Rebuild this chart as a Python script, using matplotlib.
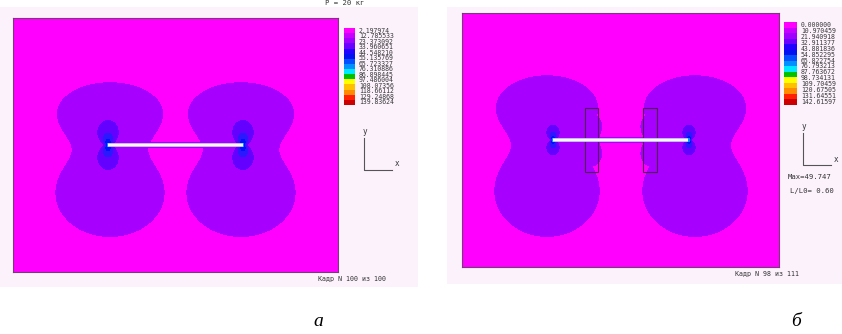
import numpy as np
import matplotlib.pyplot as plt
from matplotlib.colors import ListedColormap
from matplotlib.patches import Rectangle

FW, FH = 842, 334

# scale colours (top -> bottom) and the values printed next to them
legend_colors = ['#ff00ff', '#c800ff', '#a000ff', '#6a00ff', '#2000ff', '#0010f0',
                 '#0050ff', '#0090ff', '#00e8ff', '#00c000', '#ffff00', '#ffc000',
                 '#ff8c00', '#ff2000', '#cc0000']
labels_a = ['2.197974', '12.785533', '23.373092', '33.960651', '44.548210', '55.135769',
            '65.723327', '76.310886', '86.898445', '97.486004', '108.07356', '118.66112',
            '129.24868', '139.83624']
labels_b = ['0.000000', '10.970459', '21.940918', '32.911377', '43.881836', '54.852295',
            '65.822754', '76.793213', '87.763672', '98.734131', '109.70459', '120.67505',
            '131.64551', '142.61597']

# colours used inside the field
field_colors = ['#ff00ff', '#a800ff', '#6400ff', '#2c18ff', '#0010ff', '#0090ff', '#50ffff']

# geometry of the two frames (pixels inside each plot area)
tips_a, tips_b = [95, 230], [91, 226]
tip_y = 127
clamps_b = [(123, 136), (181, 195)]
clamp_y = (95, 159)


def px_axes(x0, y0, x1, y1):
    return fig.add_axes([x0 / FW, 1 - y1 / FH, (x1 - x0) / FW, (y1 - y0) / FH])


def ftext(x, y, s, **kw):
    kw.setdefault('family', 'DejaVu Sans Mono')
    kw.setdefault('fontsize', 4.8)
    kw.setdefault('color', '#333333')
    fig.text(x / FW, 1 - y / FH, s, va='center', **kw)


def tip_term(X, Y, tx, ty, a=0.25):
    dx, dy = X - tx, Y - ty
    r = np.hypot(dx, dy) + 1e-6
    s = np.abs(dy) / r
    return (a + s ** 2) / r


def two_blobs(X, Y, cx, ty, sxu, syu, ou, sxd, syd, od):
    return (np.exp(-(((X - cx) / sxu) ** 2 + ((Y - ty + ou) / syu) ** 2))
            + np.exp(-(((X - cx) / sxd) ** 2 + ((Y - ty - od) / syd) ** 2)))


def levels(w, h, tips, ty, lobe, tip_thr, clamps=None):
    # lobe = (shift out, sx_up, sy_up, off_up, sx_dn, sy_dn, off_dn)
    X, Y = np.meshgrid(np.arange(w) + 0.5, np.arange(h) + 0.5)
    lev = np.zeros(X.shape, int)
    sh = lobe[0]
    G = np.maximum(two_blobs(X, Y, tips[0] - sh, ty, *lobe[1:]),
                   two_blobs(X, Y, tips[1] + sh, ty, *lobe[1:]))
    if clamps:
        for c0, c1 in clamps:
            G = np.maximum(G, two_blobs(X, Y, (c0 + c1) / 2, ty, 11, 13, 14, 11, 13, 14))
    lev[G > 0.4] = 1
    mid, half = (tips[0] + tips[1]) / 2, (tips[1] - tips[0]) / 2
    lev[((X - mid) / half) ** 2 + ((Y - ty) / 3.5) ** 2 < 1] = 1
    T = sum(tip_term(X, Y, tx, ty) for tx in tips)
    for k, thr in enumerate(tip_thr):
        lev[T > thr] = np.maximum(lev[T > thr], k + 2)
    return lev


def panel(box, plot, tips, clamps, lobe, tip_thr, leg, labels, bottom, extra):
    bg = px_axes(*box)
    bg.set_facecolor('#fcf2fc')
    bg.set_xticks([]); bg.set_yticks([])
    for s in bg.spines.values():
        s.set_visible(False)

    ax = px_axes(*plot)
    w, h = plot[2] - plot[0], plot[3] - plot[1]
    lev = levels(w, h, tips, tip_y, lobe, tip_thr, clamps)
    ax.imshow(lev, cmap=ListedColormap(field_colors), vmin=-0.5, vmax=len(field_colors) - 0.5,
              extent=(0, w, h, 0), aspect='auto', interpolation='nearest')
    ax.plot(tips, [tip_y, tip_y], color='#c8c0ff', lw=2.8, solid_capstyle='butt')
    ax.plot(tips, [tip_y, tip_y], color='white', lw=1.3, solid_capstyle='butt')
    if clamps:
        for c0, c1 in clamps:
            ax.add_patch(Rectangle((c0, clamp_y[0]), c1 - c0, clamp_y[1] - clamp_y[0],
                                   fill=False, ec='#502050', lw=0.8))
    ax.set_xlim(0, w); ax.set_ylim(h, 0)
    ax.set_xticks([]); ax.set_yticks([])
    for s in ax.spines.values():
        s.set_color('#7a3a7a'); s.set_linewidth(0.8)

    lx0, ly0, lx1, ly1 = leg
    lax = px_axes(lx0, ly0, lx1, ly1)
    lax.imshow(np.arange(len(legend_colors))[:, None], cmap=ListedColormap(legend_colors),
               aspect='auto', interpolation='nearest')
    lax.set_xticks([]); lax.set_yticks([])
    for s in lax.spines.values():
        s.set_visible(False)
    step = (ly1 - ly0) / len(labels)
    for i, t in enumerate(labels):
        ftext(lx1 + 4, ly0 + step * (i + 0.5), t, fontsize=4.7, color='#3a3a3a')

    # little axis sign
    ox, oy = extra['origin']
    sax = px_axes(0, 0, FW, FH)
    sax.set_xlim(0, FW); sax.set_ylim(FH, 0); sax.axis('off')
    sax.plot([ox, ox, ox + 28], [oy - 32, oy, oy], color='#555555', lw=0.8)
    ftext(ox - 1, oy - 38, 'y', fontsize=5.5)
    ftext(ox + 31, oy - 6, 'x', fontsize=5.5)
    for (x, y, s) in extra['texts']:
        ftext(x, y, s, fontsize=5.2)
    ftext(bottom[0], bottom[1], bottom[2])


fig = plt.figure(figsize=(FW / 100, FH / 100), dpi=100)

panel((0, 7, 418, 287), (13, 18, 338, 272), tips_a, None, (-2, 54, 31, 33, 57, 46, 48),
      [1.25 / 24, 1.25 / 12, 1.25 / 6, 1.25 / 2.5],
      (344, 28, 355, 105), labels_a, (318, 279, 'Кадр N 100 из 100'),
      {'origin': (364, 170), 'texts': [(325, 3, 'P = 20 кг')]})

panel((447, 7, 842, 284), (462, 13, 779, 267), tips_b, clamps_b, (6, 52, 32, 34, 55, 48, 51),
      [1.25 / 15, 1.25 / 8, 1.25 / 4, 1.25 / 2],
      (784, 22, 797, 105), labels_b, (735, 274, 'Кадр N 98 из 111'),
      {'origin': (803, 165), 'texts': [(788, 177, 'Max=49.747'), (790, 191, 'L/L0= 0.60')]})

fig.text(318 / FW, 1 - 322 / FH, 'а', family='Liberation Serif', style='italic',
         fontsize=14, ha='center', va='center')
fig.text(796 / FW, 1 - 322 / FH, 'б', family='Liberation Serif', style='italic',
         fontsize=14, ha='center', va='center')

fig.savefig('out.png', dpi=100, facecolor='white')
